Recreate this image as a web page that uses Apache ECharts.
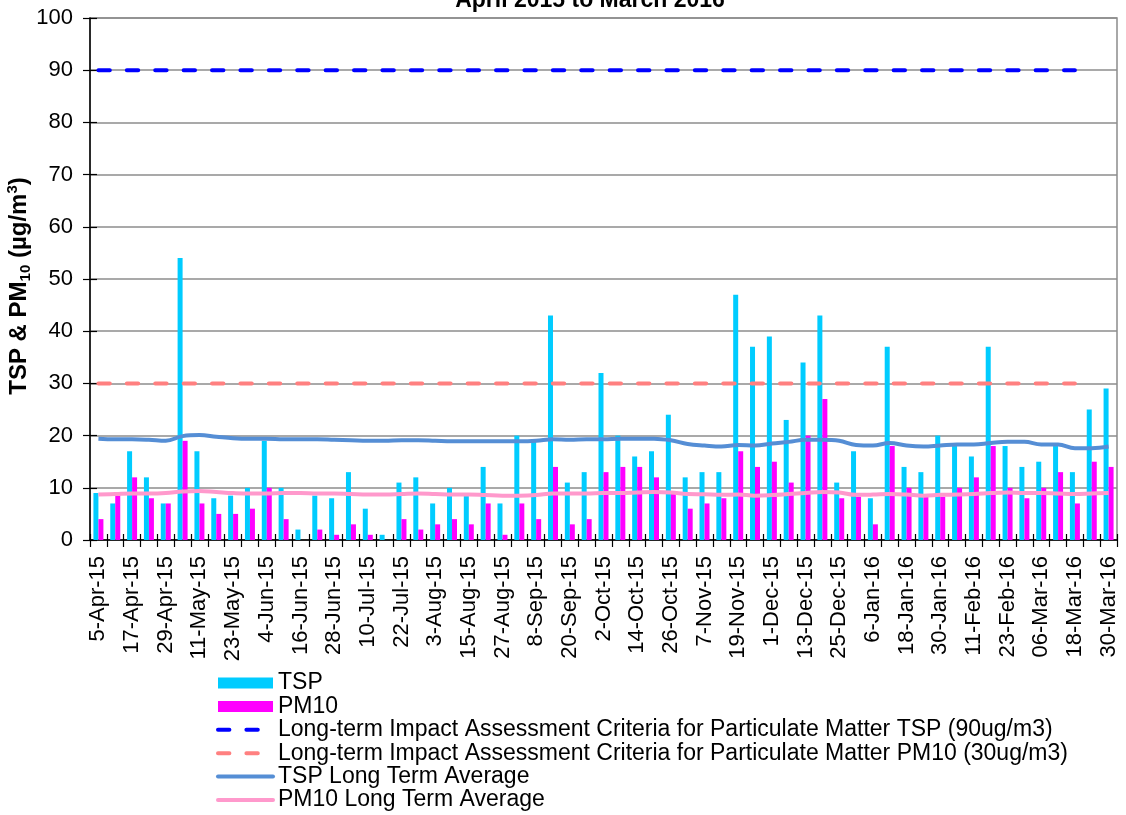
<!DOCTYPE html>
<html>
<head>
<meta charset="utf-8">
<script src="https://cdn.jsdelivr.net/npm/echarts@6/dist/echarts.min.js"></script>
<style>
html,body{margin:0;padding:0;background:#fff;}
#chart{width:1126px;height:815px;}
</style>
</head>
<body>
<div id="chart"></div>
<script>
var dates = ['5-Apr-15','11-Apr-15','17-Apr-15','23-Apr-15','29-Apr-15','5-May-15','11-May-15','17-May-15','23-May-15','29-May-15',
'4-Jun-15','10-Jun-15','16-Jun-15','22-Jun-15','28-Jun-15','4-Jul-15','10-Jul-15','16-Jul-15','22-Jul-15','28-Jul-15',
'3-Aug-15','9-Aug-15','15-Aug-15','21-Aug-15','27-Aug-15','2-Sep-15','8-Sep-15','14-Sep-15','20-Sep-15','26-Sep-15',
'2-Oct-15','8-Oct-15','14-Oct-15','20-Oct-15','26-Oct-15','1-Nov-15','7-Nov-15','13-Nov-15','19-Nov-15','25-Nov-15',
'1-Dec-15','7-Dec-15','13-Dec-15','19-Dec-15','25-Dec-15','31-Dec-15','6-Jan-16','12-Jan-16','18-Jan-16','24-Jan-16',
'30-Jan-16','5-Feb-16','11-Feb-16','17-Feb-16','23-Feb-16','29-Feb-16','06-Mar-16','12-Mar-16','18-Mar-16','24-Mar-16','30-Mar-16'];

var tsp = [9,7,17,12,7,54,17,8,8.5,10,
19,10,2,8.5,8,13,6,1,11,12,
7,10,8.5,14,7,20,19,43,11,13,
32,20,16,17,24,12,13,13,47,37,
39,23,34,43,11,17,8,37,14,13,
20,18,16,37,18,14,15,18,13,25,29];

var pm10 = [4,8.5,12,8,7,19,7,5,5,6,
10,4,0,2,1,3,1,0,4,2,
3,4,3,7,1,7,4,14,3,4,
13,14,14,12,9,6,7,8,17,14,
15,11,20,27,8,8.3,3,18,10,8.3,
8.3,10,12,18,10,8,10,13,7,15,14];

var tspAvg = [19.4,19.3,19.3,19.2,19.0,19.9,20.1,19.8,19.5,19.4,
19.4,19.3,19.3,19.3,19.2,19.1,19.0,19.0,19.1,19.1,
19.0,18.9,18.9,18.9,18.9,18.9,19.0,19.3,19.2,19.3,
19.3,19.4,19.4,19.4,19.1,18.4,18.1,17.9,18.2,18.1,
18.5,18.8,19.2,19.2,19.0,18.2,18.1,18.6,18.1,17.9,
18.1,18.3,18.3,18.6,18.8,18.8,18.3,18.3,17.6,17.6,17.9];

var pm10Avg = [8.7,8.8,8.9,8.9,9.0,9.3,9.4,9.2,9.0,8.9,
8.9,9.0,9.0,8.9,8.9,8.8,8.7,8.7,8.8,8.9,
8.8,8.7,8.7,8.6,8.5,8.5,8.6,8.9,8.9,8.9,
9.0,9.0,9.1,9.2,9.1,8.8,8.75,8.65,8.7,8.5,
8.6,8.8,9.0,9.2,9.1,8.65,8.7,8.8,8.7,8.5,
8.65,8.7,8.8,9.0,9.1,9.0,9.0,8.9,8.8,8.9,9.0];

var tspCriteria = 90;
var pm10Criteria = 30;
var criteriaStart = '5-Apr-15';
var criteriaEnd = '18-Mar-16';

var titleText = 'April 2015 to March 2016';
var names = ['TSP','PM10',
 'Long-term Impact Assessment Criteria for Particulate Matter TSP (90ug/m3)',
 'Long-term Impact Assessment Criteria for Particulate Matter PM10 (30ug/m3)',
 'TSP Long Term Average','PM10 Long Term Average'];

var FONT = '"Liberation Sans", Arial, sans-serif';
var chart = echarts.init(document.getElementById('chart'), null, {renderer:'canvas'});

var hideSym = {opacity: 0, borderWidth: 0};
var DASH = [11.4, 17];

var option = {
  animation: false,
  backgroundColor: '#ffffff',
  textStyle: {fontFamily: FONT},
  graphic: [{
    type: 'text', x: 590, y: 12,
    style: {text: titleText, fontFamily: FONT, fontSize: 23, fontWeight: 'bold', fill: '#000',
            align: 'center', verticalAlign: 'bottom'}
  }],
  grid: {left: 90, right: 9, top: 18, bottom: 275, containLabel: false, outerBoundsMode: 'none',
         show: true, borderColor: '#8c8c8c', borderWidth: 1.5, backgroundColor: 'transparent'},
  legend: {
    orient: 'vertical', left: 216, top: 671.5, height: 143, padding: 0,
    itemWidth: 55, itemHeight: 11, itemGap: 0.4,
    selectedMode: false,
    textStyle: {fontFamily: FONT, fontSize: 23, color: '#000', lineHeight: 23},
    data: [
      {name: names[0], icon: 'rect'},
      {name: names[1], icon: 'rect'},
      {name: names[2], itemStyle: hideSym, lineStyle: {width: 4, color: '#0000FF', type: DASH, cap: 'round'}},
      {name: names[3], itemStyle: hideSym, lineStyle: {width: 4, color: '#FF8080', type: DASH, cap: 'round'}},
      {name: names[4], itemStyle: hideSym, lineStyle: {width: 4, color: '#558ED5', cap: 'round'}},
      {name: names[5], itemStyle: hideSym, lineStyle: {width: 4, color: '#FF99CC', cap: 'round'}}
    ]
  },
  xAxis: [{
    type: 'category', data: dates, boundaryGap: true,
    axisLine: {show: true, lineStyle: {color: '#000', width: 1.5}},
    axisTick: {show: true, interval: 0, length: 7, lineStyle: {color: '#000', width: 1.2}},
    axisLabel: {interval: 1, rotate: 90, fontSize: 22, color: '#000', margin: 16, fontFamily: FONT},
    splitLine: {show: false}
  }, {
    type: 'category', data: dates, boundaryGap: true, position: 'bottom',
    axisLine: {show: false},
    axisTick: {show: true, inside: true, interval: 0, length: 6, lineStyle: {color: '#000', width: 1.2}},
    axisLabel: {show: false}, splitLine: {show: false}
  }],
  yAxis: [{
    type: 'value', min: 0, max: 100, interval: 10,
    axisLine: {show: true, lineStyle: {color: '#000', width: 1.5}},
    axisTick: {show: true, length: 7, lineStyle: {color: '#000', width: 1.2}},
    axisLabel: {fontSize: 22, color: '#000', margin: 17, fontFamily: FONT},
    splitLine: {show: true, lineStyle: {color: '#8c8c8c', width: 1.5}},
    name: '{a|TSP & PM}{s|10}{a| (µg/m}{p|3}{a|)}',
    nameLocation: 'middle', nameRotate: 90, nameGap: 57, nameMoveOverlap: false,
    nameTextStyle: {
      padding: [0, 14, 0, 0],
      rich: {
        a: {fontFamily: FONT, fontSize: 24, fontWeight: 'bold', color: '#000', lineHeight: 28, verticalAlign: 'middle'},
        s: {fontFamily: FONT, fontSize: 15, fontWeight: 'bold', color: '#000', lineHeight: 28, verticalAlign: 'bottom'},
        p: {fontFamily: FONT, fontSize: 15, fontWeight: 'bold', color: '#000', lineHeight: 28, verticalAlign: 'top'}
      }
    }
  }, {
    type: 'value', min: 0, max: 100, interval: 10, position: 'left',
    axisLine: {show: false},
    axisTick: {show: true, inside: true, length: 7, lineStyle: {color: '#000', width: 1.2}},
    axisLabel: {show: false}, splitLine: {show: false}
  }],
  series: [
    {name: names[0], type: 'bar', data: tsp, barWidth: 5, barGap: '0%', itemStyle: {color: '#00CCFF'}},
    {name: names[1], type: 'bar', data: pm10, barWidth: 5, barGap: '0%', itemStyle: {color: '#FF00FF'}},
    {name: names[2], type: 'line', symbol: 'none', data: [[criteriaStart, tspCriteria], [criteriaEnd, tspCriteria]],
     itemStyle: {color: '#0000FF'},
     lineStyle: {color: '#0000FF', width: 4, type: DASH, cap: 'round'}},
    {name: names[3], type: 'line', symbol: 'none', data: [[criteriaStart, pm10Criteria], [criteriaEnd, pm10Criteria]],
     itemStyle: {color: '#FF8080'},
     lineStyle: {color: '#FF8080', width: 4, type: DASH, cap: 'round'}},
    {name: names[4], type: 'line', symbol: 'none', smooth: 0.4, data: tspAvg,
     itemStyle: {color: '#558ED5'}, lineStyle: {color: '#558ED5', width: 4}},
    {name: names[5], type: 'line', symbol: 'none', smooth: 0.4, data: pm10Avg,
     itemStyle: {color: '#FF99CC'}, lineStyle: {color: '#FF99CC', width: 4}}
  ]
};
chart.setOption(option);
</script>
</body>
</html>
